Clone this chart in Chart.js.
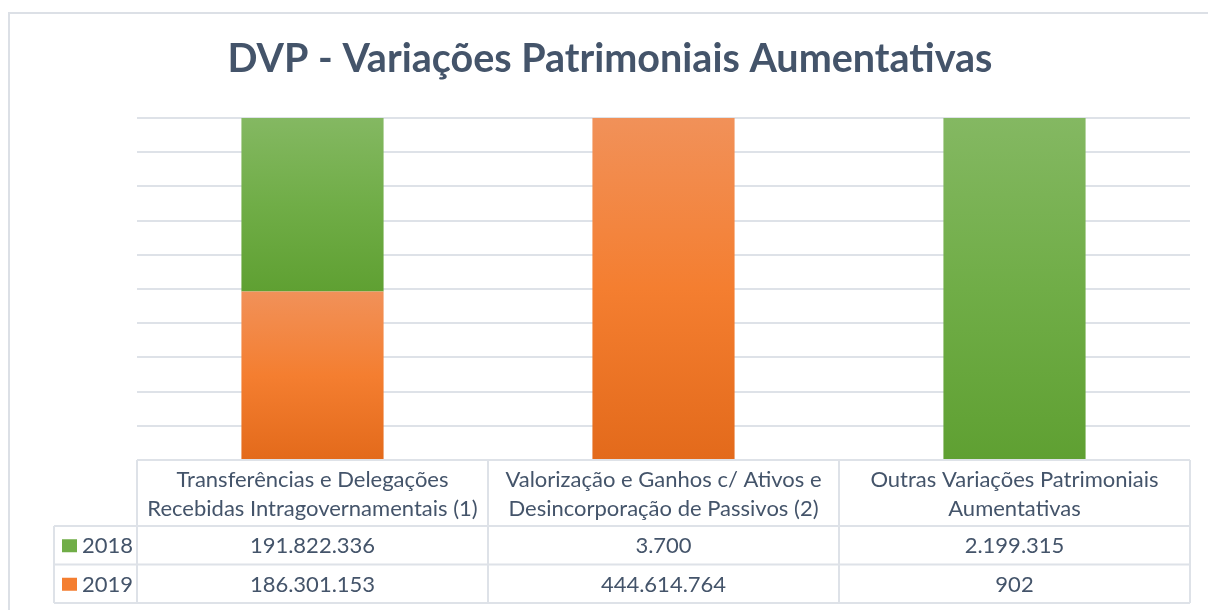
<!DOCTYPE html>
<html>
<head>
<meta charset="utf-8">
<script src="https://cdn.jsdelivr.net/npm/chart.js@4"></script>
<style>
  html, body { margin: 0; padding: 0; background: #fff; }
  #wrap { width: 1208px; height: 610px; }
</style>
</head>
<body>
<div id="wrap"><canvas id="dvp_chart" width="1208" height="610"></canvas></div>
<script>
// categories (lines as in the data table header)
const categories = [
  ['Transferências e Delegações', 'Recebidas Intragovernamentais (1)'],
  ['Valorização e Ganhos c/ Ativos e', 'Desincorporação de Passivos (2)'],
  ['Outras Variações Patrimoniais', 'Aumentativas']
];
const values_2018 = [191822336, 3700, 2199315];
const values_2019 = [186301153, 444614764, 902];
const value_labels_2018 = ['191.822.336', '3.700', '2.199.315'];
const value_labels_2019 = ['186.301.153', '444.614.764', '902'];

// 100% stacked: share of each year in each category
const totals = values_2018.map((v, i) => v + values_2019[i]);
const pct_2018 = values_2018.map((v, i) => v / totals[i] * 100);
const pct_2019 = values_2019.map((v, i) => v / totals[i] * 100);

const TEXT = '#44546A';
const GRID = '#DEE2E8';
const FONT = 'Lato';
const TITLE = 'DVP - Variações Patrimoniais Aumentativas';

const greenStops = ['#84B862', '#70AD47', '#5FA032'];
const orangeStops = ['#F19159', '#F47E30', '#E36A1B'];

// each bar segment gets its own vertical gradient (2019 at the bottom, 2018 on top)
function segmentFill(c) {
  const chart = c.chart;
  const stops = c.datasetIndex === 0 ? orangeStops : greenStops;
  if (!chart.chartArea || c.type !== 'data') return stops[1];
  const y = chart.scales.y;
  const i = c.dataIndex;
  const lo = c.datasetIndex === 0 ? 0 : pct_2019[i];
  const hi = c.datasetIndex === 0 ? pct_2019[i] : 100;
  const top = y.getPixelForValue(hi);
  const bottom = y.getPixelForValue(lo);
  if (bottom - top < 0.5) return stops[1];
  const g = chart.ctx.createLinearGradient(0, top, 0, bottom);
  g.addColorStop(0, stops[0]);
  g.addColorStop(0.5, stops[1]);
  g.addColorStop(1, stops[2]);
  return g;
}

// outer frame + title
const framePlugin = {
  id: 'frame',
  beforeDraw(chart) {
    const ctx = chart.ctx;
    ctx.save();
    ctx.strokeStyle = '#DCE0E6';
    ctx.lineWidth = 2;
    ctx.strokeRect(9, 13, 1400, 800);
    ctx.fillStyle = TEXT;
    ctx.font = 'bold 39.5px ' + FONT;
    ctx.textAlign = 'center';
    ctx.textBaseline = 'alphabetic';
    ctx.fillText(TITLE, 610, 72);
    ctx.restore();
  }
};

// data table under the plot (header row = category labels, then one row per year)
const tablePlugin = {
  id: 'dataTable',
  afterDraw(chart) {
    const ctx = chart.ctx;
    const x = chart.scales.x;
    const area = chart.chartArea;
    const step = (area.right - area.left) / categories.length;
    const headTop = area.bottom, headBottom = 526;
    const rowH = 38.5;
    const legendLeft = 54;
    const rows = [
      { label: '2018', cells: value_labels_2018, color: greenStops[1] },
      { label: '2019', cells: value_labels_2019, color: orangeStops[1] }
    ];
    const tableBottom = headBottom + rowH * rows.length;

    ctx.save();
    ctx.strokeStyle = GRID;
    ctx.lineWidth = 2;
    ctx.beginPath();
    ctx.moveTo(area.left, headTop); ctx.lineTo(area.right, headTop);
    for (let r = 0; r <= rows.length; r++) {
      const y = headBottom + r * rowH;
      ctx.moveTo(legendLeft, y); ctx.lineTo(area.right, y);
    }
    for (let c = 0; c <= categories.length; c++) {
      const xx = area.left + c * step;
      ctx.moveTo(xx, headTop); ctx.lineTo(xx, tableBottom);
    }
    ctx.moveTo(legendLeft, headBottom); ctx.lineTo(legendLeft, tableBottom);
    ctx.stroke();

    ctx.fillStyle = TEXT;
    ctx.font = '22px ' + FONT;
    ctx.textAlign = 'center';
    ctx.textBaseline = 'middle';
    categories.forEach((lines, i) => {
      const cx = x.getPixelForValue(i);
      lines.forEach((t, k) => ctx.fillText(t, cx, 480 + k * 29));
    });
    rows.forEach((row, r) => {
      const cy = headBottom + r * rowH + rowH / 2 + 1;
      row.cells.forEach((t, i) => {
        ctx.fillStyle = TEXT;
        ctx.textAlign = 'center';
        ctx.fillText(t, x.getPixelForValue(i), cy);
      });
      ctx.fillStyle = row.color;
      ctx.fillRect(62, cy - 7, 15, 13);
      ctx.fillStyle = TEXT;
      ctx.textAlign = 'left';
      ctx.fillText(row.label, 82, cy);
    });
    ctx.restore();
  }
};

new Chart(document.getElementById('dvp_chart'), {
  type: 'bar',
  data: {
    labels: categories,
    datasets: [
      { label: '2019', data: pct_2019, backgroundColor: segmentFill },
      { label: '2018', data: pct_2018, backgroundColor: segmentFill }
    ]
  },
  options: {
    responsive: false,
    animation: false,
    layout: { padding: { left: 137, right: 18, top: 118, bottom: 150 } },
    datasets: { bar: { categoryPercentage: 1, barPercentage: 0.405 } },
    scales: {
      x: { stacked: true, display: false },
      y: {
        stacked: true,
        min: 0, max: 100,
        ticks: { display: false, stepSize: 10 },
        grid: { color: GRID, lineWidth: 2, drawTicks: false },
        border: { display: false }
      }
    },
    plugins: {
      legend: { display: false },
      tooltip: { enabled: false },
      title: { display: false }
    }
  },
  plugins: [framePlugin, tablePlugin]
});
</script>
</body>
</html>
